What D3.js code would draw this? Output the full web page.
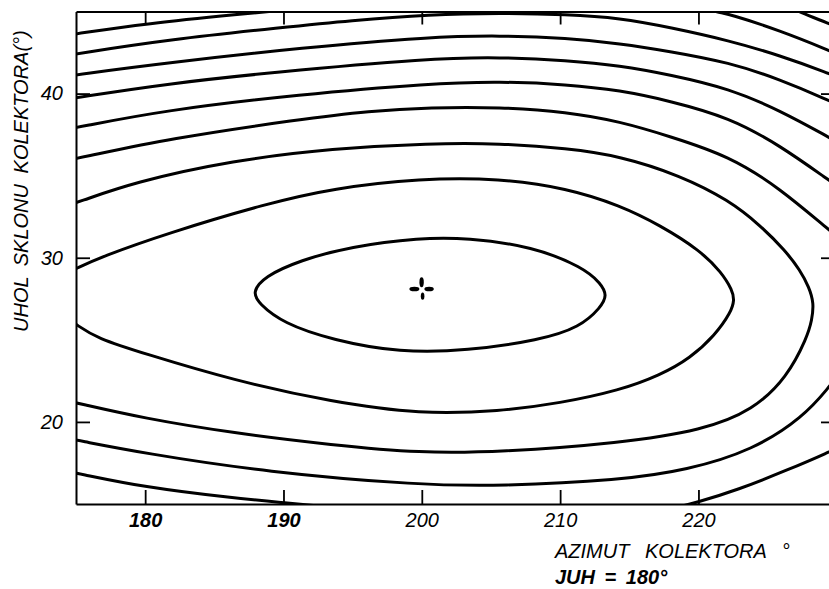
<!DOCTYPE html>
<html><head><meta charset="utf-8">
<script src="https://cdn.jsdelivr.net/npm/d3@7"></script>
<style>body{margin:0;background:#fff}svg{display:block}</style>
</head><body><svg id="c" width="829" height="589"></svg>
<script>
// ---- data (azimuth °, tilt °) ----
const xTicks = [180, 190, 200, 210, 220];
const yTicks = [20, 30, 40];
const xTitle = "AZIMUT KOLEKTORA °";
const xSub = "JUH = 180°";
const yTitle = "UHOL SKLONU KOLEKTORA(°)";
const optimum = [200, 28.1];

const iso0 = [[225.9,45.55],[227.35,44.94],[229.45,44.27],[230.6,43.84]];
const iso1Left = [[173.84,43.48],[175.14,43.66],[180.13,44.27],[186.64,44.82],[191.92,45.24]];
const iso1Right = [[220.12,45.3],[221.42,44.94],[222.22,44.85],[225.9,43.84],[229.45,42.63],[230.6,42.2]];
const iso2 = [[173.84,42.26],[175.14,42.44],[181.8,43.30],[189.97,44.03],[194.81,44.45],[200.6,44.82],[205.66,44.9],[210.5,44.82],[214.33,44.6],[217.95,44.03],[222.22,43.23],[225.9,42.32],[229.45,41.23],[230.6,40.8]];
const iso3 = [[173.84,40.98],[175.14,41.17],[181.8,41.9],[191.41,42.8],[200.6,43.45],[205.66,43.54],[210.5,43.38],[214.33,43.05],[217.95,42.57],[222.22,41.9],[225.9,40.86],[229.45,39.58],[230.6,39.1]];
const iso4 = [[173.84,39.58],[175.14,39.77],[181.8,40.62],[189.03,41.28],[200.6,42.15],[205.66,42.22],[210.5,42.02],[214.33,41.71],[217.95,41.15],[222.22,40.31],[225.9,38.97],[229.45,37.33],[230.6,36.78]];
const iso5Top = [[173.84,37.76],[175.14,37.94],[181.29,38.97],[191.2,39.95],[200.6,40.62],[205.66,40.74],[210.5,40.56],[214.33,40.2],[217.95,39.55],[222.22,38.55],[225.9,36.84],[229.45,34.71],[230.6,34.04]];
const iso6Top = [[173.84,35.87],[175.14,36.05],[181.8,37.27],[191.2,38.43],[196.26,38.95],[200.6,39.16],[205.66,39.18],[210.5,38.88],[214.33,38.3],[217.95,37.39],[222.22,36.2],[225.9,34.23],[229.45,31.67],[230.6,30.94]];
const iso7 = [[173.84,33.07],[175.14,33.37],[179.12,34.59],[186.35,35.93],[193.58,36.66],[200.6,36.97],[205.66,36.97],[210.5,36.66],[214.33,36.2],[218.67,35.02],[222.22,33.5],[224.46,31.98],[226.27,30.45],[227.35,29.24],[228.0,28.2],[228.35,27.23],[228.2,26.19],[227.86,25.16],[226.41,22.72],[223.95,20.72],[220.34,19.5],[214.33,18.71],[205.66,18.16],[199.87,18.1],[193.58,18.59],[186.35,19.32],[179.84,20.23],[175.14,21.14],[173.84,21.38]];
const iso8 = [[173.84,28.87],[175.07,29.36],[176.74,30.03],[181.58,31.49],[188.81,33.31],[193.58,34.23],[199.87,34.84],[205.66,34.84],[210.5,34.23],[214.33,33.19],[217.23,31.98],[220.12,30.45],[221.67,29.11],[222.45,28.02],[222.6,27.41],[222.35,26.68],[221.2,25.28],[219.4,23.88],[217.23,22.85],[214.33,21.93],[209.99,21.14],[205.66,20.65],[199.87,20.47],[193.58,21.2],[186.35,22.54],[179.84,24.19],[176.52,25.1],[175.07,25.89],[174.2,26.44]];
const iso9 = [[187.75,27.9],[188.6,28.85],[191.2,29.84],[194.81,30.68],[199.87,31.22],[203.27,31.22],[208.04,30.68],[211.66,29.42],[212.95,28.44],[213.4,27.71],[212.95,26.98],[211.44,25.77],[208.55,24.98],[203.27,24.33],[198.43,24.22],[193.58,24.98],[189.97,26.01],[188.2,27.23]];
const iso6Bottom = [[230.24,23.03],[229.45,22.12],[227.57,20.29],[223.95,18.28],[219.18,17.06],[214.33,16.45],[205.66,16.09],[199.87,16.15],[188.81,16.94],[179.84,18.1],[175.07,18.89],[173.84,19.07]];
const iso5BottomLeft = [[173.84,17.06],[175.07,16.88],[179.84,16.03],[186.35,15.36],[190.47,15.05],[193.37,14.81]];
const iso5BottomRight = [[217.95,14.69],[219.98,15.12],[222.8,15.85],[226.41,17.06],[229.45,18.16],[230.6,18.65]];

const openLines = [iso0, iso1Left, iso1Right, iso2, iso3, iso4, iso5Top, iso6Top, iso7, iso8, iso6Bottom, iso5BottomLeft, iso5BottomRight];
const closedLines = [iso9];

// ---- drawing ----
const svg = d3.select("#c");
const x = d3.scaleLinear([175, 229.8], [76, 834]);
const y = d3.scaleLinear([15, 45], [504, 11.5]);
const FONT = "'Liberation Sans', Arial, sans-serif";

svg.append("defs").append("clipPath").attr("id","plot")
  .append("rect").attr("x", x(175)).attr("y", y(45))
  .attr("width", x(229.8)-x(175)).attr("height", y(15)-y(45));

const g = svg.append("g").attr("clip-path","url(#plot)");
const lineOpen = d3.line().x(d=>x(d[0])).y(d=>y(d[1])).curve(d3.curveBasis);
const lineClosed = d3.line().x(d=>x(d[0])).y(d=>y(d[1])).curve(d3.curveBasisClosed);

g.selectAll("path.open").data(openLines).join("path").attr("class","open")
  .attr("d", lineOpen).attr("fill","none").attr("stroke","#000")
  .attr("stroke-width",3).attr("stroke-linecap","round");
g.selectAll("path.closed").data(closedLines).join("path").attr("class","closed")
  .attr("d", lineClosed).attr("fill","none").attr("stroke","#000").attr("stroke-width",3);

// optimum marker (four petals)
const mk = svg.append("g").attr("transform",`translate(${x(optimum[0])},${y(optimum[1])})`);
[[-0.2,-6.6,2.2,5],[-7.4,0,5,2.3],[7.3,0,4.7,2.3],[0.8,7.2,1.8,3.6]].forEach(p=>{
  mk.append("ellipse").attr("cx",p[0]).attr("cy",p[1]).attr("rx",p[2]).attr("ry",p[3]).attr("fill","#000");
});

// axes
function style(a){
  a.selectAll("path.domain").attr("stroke","#000").attr("stroke-width",2);
  a.selectAll(".tick line").attr("stroke","#000").attr("stroke-width",1.8);
  a.selectAll("text").attr("font-family",FONT).attr("font-style","italic")
    .attr("font-size",20).attr("fill","#000");
}
const ab = svg.append("g").attr("transform",`translate(0,${y(15)})`)
  .call(d3.axisBottom(x).tickValues(xTicks).tickSize(-14).tickSizeOuter(0).tickPadding(9));
style(ab);
ab.selectAll("text").attr("font-weight", d => d < 200 ? "bold" : "normal");
const at = svg.append("g").attr("transform",`translate(0,${y(45)})`)
  .call(d3.axisTop(x).tickValues(xTicks).tickSize(-13).tickSizeOuter(0).tickFormat(""));
style(at);
const al = svg.append("g").attr("transform",`translate(${x(175)},0)`)
  .call(d3.axisLeft(y).tickValues(yTicks).tickSize(-14).tickSizeOuter(0).tickPadding(13));
style(al);
const ar = svg.append("g").attr("transform",`translate(${x(229.8)},0)`)
  .call(d3.axisRight(y).tickValues(yTicks).tickSize(-13).tickSizeOuter(0).tickFormat(""));
style(ar);

// titles
svg.append("text").attr("transform","translate(28,332) rotate(-90)")
  .attr("font-family",FONT).attr("font-style","italic").attr("font-size",20)
  .attr("word-spacing",5).text(yTitle);
svg.append("text").attr("x",555).attr("y",558)
  .attr("font-family",FONT).attr("font-style","italic").attr("font-size",20)
  .attr("word-spacing",10).text(xTitle);
svg.append("text").attr("x",555).attr("y",584)
  .attr("font-family",FONT).attr("font-style","italic").attr("font-size",20)
  .attr("font-weight","bold").attr("word-spacing",4).text(xSub);
</script></body></html>
